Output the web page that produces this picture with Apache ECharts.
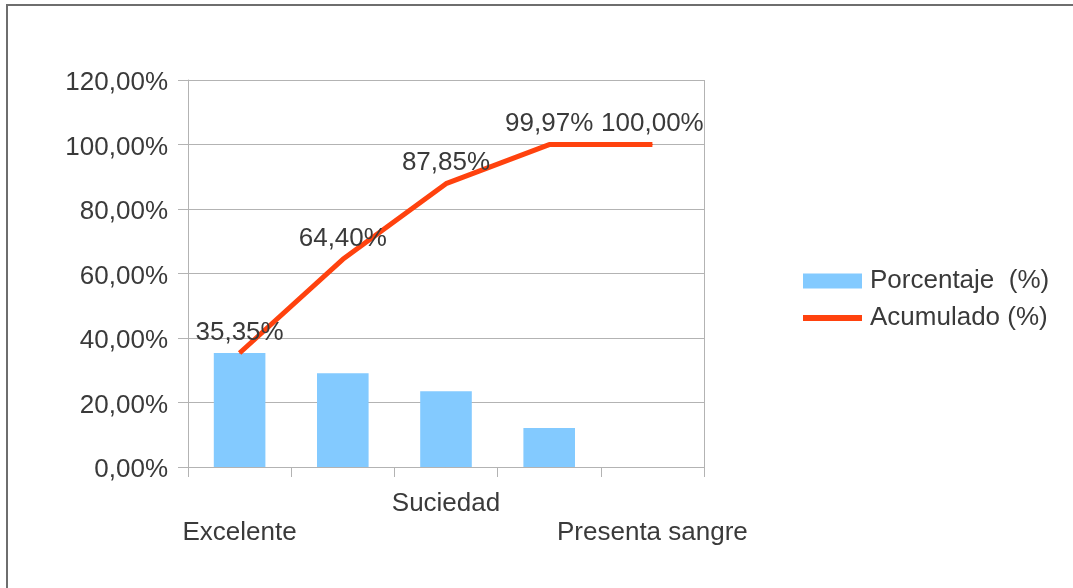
<!DOCTYPE html>
<html>
<head>
<meta charset="utf-8">
<script src="https://cdn.jsdelivr.net/npm/echarts@6/dist/echarts.min.js"></script>
<style>
  html, body { margin: 0; padding: 0; background: #fff; }
  #chart { width: 1073px; height: 588px; }
</style>
</head>
<body>
<div id="chart"></div>
<script>
// Pareto chart: share per category (bars) and running total (line)
const categories = ['Excelente', '', 'Suciedad', '', 'Presenta sangre'];
const porcentaje = [35.35, 29.05, 23.45, 12.12, 0.03];
const acumulado = [35.35, 64.40, 87.85, 99.97, 100.00];
const yTicks = [0, 20, 40, 60, 80, 100, 120];

const seriesNames = ['Porcentaje  (%)', 'Acumulado (%)'];
const FONT = '"Liberation Sans", Arial, sans-serif';
const FS = 26;
const TEXT = '#3a3a3a';
const GRID = '#b3b3b3';

const fmt = v => v.toFixed(2).replace('.', ',') + '%';

const chart = echarts.init(document.getElementById('chart'), null, { renderer: 'canvas' });
chart.setOption({
  animation: false,
  backgroundColor: '#fff',
  textStyle: { fontFamily: FONT },
  graphic: [{
    // page frame (top and left edges)
    type: 'polyline',
    shape: { points: [[7, 588], [7, 5], [1073, 5]] },
    style: { stroke: '#6e6e6e', lineWidth: 2, fill: null }
  }, {
    // right edge of the plot area
    type: 'line',
    shape: { x1: 704.5, y1: 80, x2: 704.5, y2: 477 },
    style: { stroke: GRID, lineWidth: 1 }
  }],
  grid: { left: 188, right: 369, top: 80, bottom: 121, containLabel: false },
  legend: {
    orient: 'vertical',
    left: 803,
    top: 268,
    padding: 0,
    itemWidth: 59,
    itemHeight: 15,
    itemGap: 11,
    textStyle: { fontFamily: FONT, fontSize: FS, color: TEXT, padding: [0, 0, 0, 3] },
    data: [
      { name: seriesNames[0], icon: 'rect' },
      { name: seriesNames[1], icon: 'path://M0,0H59V6H0Z' }
    ]
  },
  xAxis: {
    type: 'category',
    data: categories,
    boundaryGap: true,
    axisLine: { lineStyle: { color: GRID, width: 1 } },
    axisTick: { show: true, length: 10, lineStyle: { color: GRID } },
    axisLabel: {
      interval: 0,
      margin: 24,
      fontFamily: FONT,
      fontSize: FS,
      color: TEXT,
      formatter: (v, i) => (i % 4 === 0 ? '{low|' + v + '}' : '{high|' + v + '}'),
      rich: {
        high: { fontFamily: FONT, fontSize: FS, color: TEXT },
        low: { fontFamily: FONT, fontSize: FS, color: TEXT, padding: [29, 0, 0, 0] }
      }
    },
    splitLine: { show: false }
  },
  yAxis: {
    type: 'value',
    min: yTicks[0],
    max: yTicks[yTicks.length - 1],
    interval: yTicks[1] - yTicks[0],
    axisLine: { show: true, lineStyle: { color: GRID, width: 1 } },
    axisTick: { show: true, length: 10, lineStyle: { color: GRID } },
    axisLabel: {
      margin: 20, fontFamily: FONT, fontSize: FS, color: TEXT,
      formatter: v => '{t|' + fmt(v) + '}',
      rich: { t: { fontFamily: FONT, fontSize: FS, color: TEXT, padding: [6, 0, 0, 0] } }
    },
    splitLine: { show: true, lineStyle: { color: GRID, width: 1 } }
  },
  series: [
    {
      name: seriesNames[0],
      type: 'bar',
      data: porcentaje,
      barWidth: '50%',
      itemStyle: { color: '#83caff' }
    },
    {
      name: seriesNames[1],
      type: 'line',
      data: acumulado,
      symbol: 'circle',
      symbolSize: 1,
      showSymbol: true,
      lineStyle: { color: '#ff420e', width: 5 },
      itemStyle: { color: '#ff420e' },
      label: {
        show: true,
        position: 'top',
        distance: 7,
        fontFamily: FONT,
        fontSize: FS,
        color: TEXT,
        formatter: p => fmt(p.value)
      },
      z: 3
    }
  ]
});
</script>
</body>
</html>
